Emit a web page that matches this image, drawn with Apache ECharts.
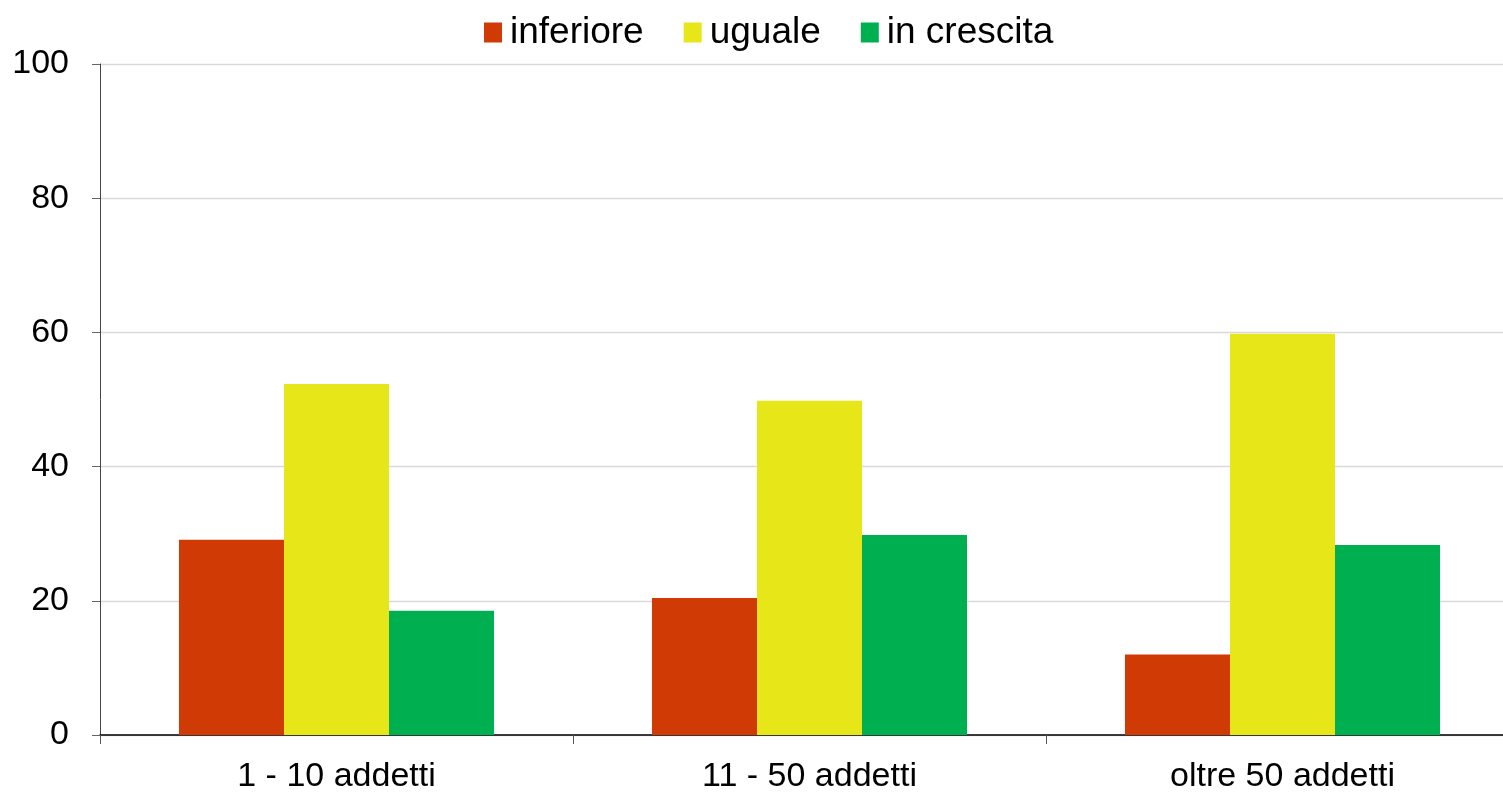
<!DOCTYPE html>
<html><head><meta charset="utf-8">
<script src="https://cdn.jsdelivr.net/npm/echarts@6/dist/echarts.min.js"></script>
<style>html,body{margin:0;padding:0;background:#fff}#c{width:1503px;height:792px}</style>
</head><body><div id="c"></div>
<script>
const categories = ['1 - 10 addetti', '11 - 50 addetti', 'oltre 50 addetti'];
const seriesNames = ['inferiore', 'uguale', 'in crescita'];
const inferiore = [29.1, 20.4, 12.0];
const uguale = [52.3, 49.8, 59.8];
const inCrescita = [18.5, 29.8, 28.3];
const colors = ['#CF3A05', '#E7E619', '#00B050'];

const chart = echarts.init(document.getElementById('c'), null, {renderer: 'canvas'});
const font = 'Liberation Sans, Arial, sans-serif';
chart.setOption({
  animation: false,
  textStyle: {fontFamily: font},
  legend: {
    top: 9, left: 479,
    itemWidth: 18, itemHeight: 20, itemGap: 40,
    icon: 'rect',
    textStyle: {fontSize: 37, color: '#000', fontFamily: font, padding: [0, 0, 0, 3]},
    data: seriesNames
  },
  grid: {left: 100, top: 64, width: 1419, height: 671, containLabel: false, outerBoundsMode: 'none'},
  xAxis: {
    type: 'category', data: categories,
    axisLine: {lineStyle: {color: '#000', width: 1.5}},
    axisTick: {show: true, length: 9, lineStyle: {color: '#555'}},
    axisLabel: {fontSize: 34, color: '#000', margin: 25, fontFamily: font}
  },
  yAxis: {
    type: 'value', min: 0, max: 100, interval: 20,
    axisLine: {show: true, lineStyle: {color: '#444'}},
    axisTick: {show: true, length: 8, lineStyle: {color: '#666'}},
    axisLabel: {fontSize: 34, color: '#000', margin: 31, fontFamily: font},
    splitLine: {lineStyle: {color: '#d9d9d9', width: 1.3}}
  },
  series: [
    {name: seriesNames[0], type: 'bar', data: inferiore, itemStyle: {color: colors[0]}, barGap: '0%', barCategoryGap: '33.4%'},
    {name: seriesNames[1], type: 'bar', data: uguale, itemStyle: {color: colors[1]}, barGap: '0%', barCategoryGap: '33.4%'},
    {name: seriesNames[2], type: 'bar', data: inCrescita, itemStyle: {color: colors[2]}, barGap: '0%', barCategoryGap: '33.4%'}
  ]
});
</script></body></html>
